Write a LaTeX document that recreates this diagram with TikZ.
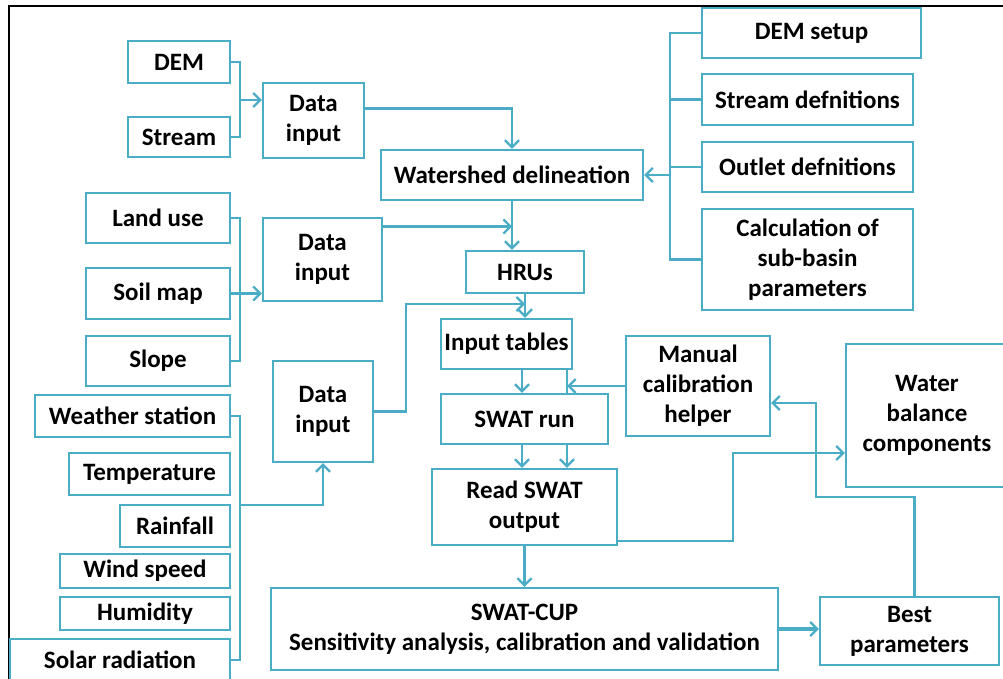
\documentclass[tikz,border=0pt]{standalone}
\usepackage{fontspec}
\setmainfont{Carlito}
\usepackage{xcolor}
\usepackage{tikz}
\usetikzlibrary{arrows.meta,positioning}
\definecolor{aqua}{RGB}{75,172,198}

\begin{document}
\begin{tikzpicture}[
  x=1pt, y=-1pt,
  box/.style={rectangle, draw=aqua, line width=2.4pt, fill=white, align=center, inner sep=0pt, font=\fontsize{25}{30}\selectfont\bfseries},
  link/.style={draw=aqua, line width=2.3pt},
  arr/.style={link, -{Straight Barb[length=7pt, width=14pt, line width=2.3pt]}}
]
\useasboundingbox (0,0) rectangle (1003,679);
\draw[black, line width=1.5pt] (9,679) -- (9,6) -- (1003,6);

% inputs on the left
\node[box, minimum width=102, minimum height=42] (dem) at (179,62) {DEM};
\node[box, minimum width=102, minimum height=40] (stream) at (179,137) {Stream};
\node[box, minimum width=101, minimum height=75] (datain1) at (313.5,120.5) {Data\\input};
\node[box, minimum width=144, minimum height=50] (landuse) at (158,218) {Land use};
\node[box, minimum width=144, minimum height=51] (soilmap) at (158,293.5) {Soil map};
\node[box, minimum width=144, minimum height=50] (slope) at (158,361) {Slope};
\node[box, minimum width=119, minimum height=83] (datain2) at (322.5,259.5) {Data\\input};
\node[box, minimum width=100, minimum height=101] (datain3) at (323,411.5) {Data\\input};
\node[box, minimum width=195, minimum height=42] (weather) at (132.5,416) {Weather station};
\node[box, minimum width=161, minimum height=42] (temp) at (149.5,474) {Temperature};
\node[box, minimum width=110, minimum height=42] (rain) at (175,526) {Rainfall};
\node[box, minimum width=170, minimum height=34] (wind) at (145,571) {Wind speed};
\node[box, minimum width=170, minimum height=33] (humid) at (145,613.5) {Humidity};
\node[box, minimum width=220, minimum height=42] (solar) at (120,660) {Solar radiation};

% main chain
\node[box, minimum width=262, minimum height=50] (wshed) at (512,175) {Watershed delineation};
\node[box, minimum width=118, minimum height=42] (hrus) at (525,272) {HRUs};
\node[box, minimum width=131, minimum height=50] (inputtab) at (506.5,344) {Input tables};
\node[box, minimum width=167, minimum height=50] (swatrun) at (524.5,419) {SWAT run};
\node[box, minimum width=185, minimum height=76] (readswat) at (524.5,507) {Read SWAT\\output};
\node[box, minimum width=507, minimum height=82] (swatcup) at (524.5,629) {SWAT-CUP\\Sensitivity analysis, calibration and validation};

% right side
\node[box, minimum width=219, minimum height=50] (demsetup) at (811.5,33) {DEM setup};
\node[box, minimum width=211, minimum height=51] (streamdef) at (807.5,99.5) {Stream defnitions};
\node[box, minimum width=211, minimum height=50] (outletdef) at (807.5,167) {Outlet defnitions};
\node[box, minimum width=211, minimum height=101] (calc) at (807.5,259.5) {Calculation of\\sub-basin\\parameters};
\node[box, minimum width=144, minimum height=100] (manual) at (698,386) {Manual\\calibration\\helper};
\node[box, minimum width=162, minimum height=143] (water) at (927,415.5) {Water\\balance\\components};
\node[box, minimum width=179, minimum height=68] (best) at (909.5,631) {Best\\parameters};

% junctions
\coordinate (b1) at (240,100);
\coordinate (b2) at (670,175);
\coordinate (b3) at (240,293.5);
\coordinate (b4) at (240,505);
\coordinate (k1) at (406,304);
\coordinate (hmid) at (hrus.south |- k1);
\coordinate (c1) at (522,386);
\coordinate (c2) at (567,386);
\coordinate (k2) at (733,453);
\coordinate (k3) at (816,497);
\coordinate (k4) at (816,403);

\draw[link] (dem.east) -| (b1) |- (stream.east);
\draw[arr] (b1) -- (b1 -| datain1.west);
\draw[arr] ([yshift=12pt]datain1.east) -| (wshed.north);

\draw[link] (demsetup.west) -| (b2) |- (calc.west);
\draw[link] (streamdef.west) -- (streamdef.west -| b2);
\draw[link] (outletdef.west) -- (outletdef.west -| b2);
\draw[arr] (b2) -- (wshed.east);

\draw[arr] (wshed.south) -- (hrus.north -| wshed.south);
\draw[arr] ([yshift=33pt]datain2.east) -- ([yshift=33pt]datain2.east -| wshed.south);
\draw[link] (landuse.east) -| (b3) |- (slope.east);
\draw[arr] (soilmap.east) -- (soilmap.east -| datain2.west);

\draw[arr] (hrus.south) -- (hrus.south |- inputtab.north);
\draw[arr] (datain3.east) -| (k1) -- (hmid);

\draw[arr] (inputtab.south -| c1) -- (swatrun.north -| c1);
\draw[link] (inputtab.south -| c2) -- (swatrun.north -| c2);
\draw[arr] (manual.west) -- (c2);
\draw[arr] (swatrun.south -| c1) -- (readswat.north -| c1);
\draw[arr] (swatrun.south -| c2) -- (readswat.north -| c2);

\draw[arr] ([yshift=-34pt]readswat.east) -| (k2) -- (k2 -| water.west);
\draw[arr] ([xshift=5pt]best.north) |- (k3) -- (k4) -- (k4 -| manual.east);
\draw[arr] (readswat.south) -- (readswat.south |- swatcup.north);
\draw[arr, line width=3.2pt] (swatcup.east) -- (swatcup.east -| best.west);

\draw[link] (weather.east) -| (b4) |- (solar.east);
\draw[arr] (b4) -| (datain3.south);
\end{tikzpicture}
\end{document}
